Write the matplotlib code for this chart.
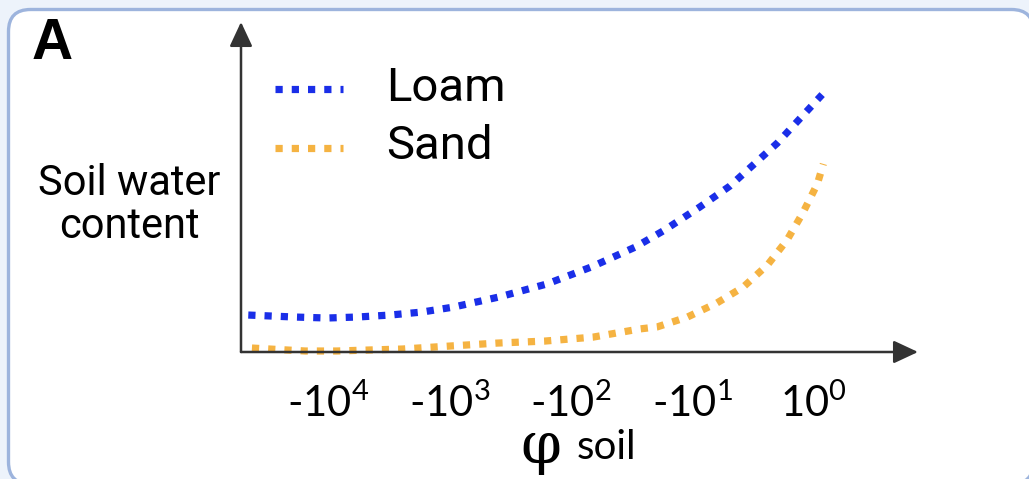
import matplotlib.pyplot as plt
from matplotlib.patches import FancyBboxPatch

plt.rcParams['mathtext.fontset'] = 'custom'
plt.rcParams['mathtext.rm'] = 'Lato'
plt.rcParams['mathtext.default'] = 'regular'

# x = exponent of |phi soil| (axis runs from -10^4 ... to 10^0), y = relative water content
loam_x = [4.66, 4.28, 4.01, 3.76, 3.49, 3.23, 2.97, 2.59, 2.2, 1.83, 1.47, 1.24, 0.94, 0.69, 0.3, -0.07]
loam_y = [0.112, 0.106, 0.103, 0.106, 0.112, 0.121, 0.136, 0.167, 0.206, 0.258, 0.318, 0.367, 0.439, 0.503, 0.633, 0.78]

sand_x = [4.63, 4.19, 3.93, 3.67, 3.39, 3.0, 2.61, 2.22, 1.82, 1.43, 1.29, 1.04, 0.8, 0.58, 0.38, 0.22, 0.09, -0.03, -0.08]
sand_y = [0.012, 0.003, 0.003, 0.006, 0.009, 0.018, 0.027, 0.033, 0.045, 0.07, 0.076, 0.106, 0.148, 0.197, 0.264, 0.339, 0.421, 0.509, 0.57]

tick_pos = [4, 3, 2, 1, 0]
tick_labels = ['-10$^{4}$', '-10$^{3}$', '-10$^{2}$', '-10$^{1}$', '10$^{0}$']

W, H = 1029, 479
fig = plt.figure(figsize=(W / 100, H / 100), dpi=100, facecolor='#EDF3FB')

# background panel with rounded border
bg = fig.add_axes([0, 0, 1, 1])
bg.set_xlim(0, W)
bg.set_ylim(0, H)
bg.axis('off')
bg.add_patch(FancyBboxPatch((8.5, -5), 1025, H - 9.5 + 5,
                            boxstyle='round,pad=0,rounding_size=22',
                            facecolor='white', edgecolor='#9DB4DD', linewidth=2.4))

ax = fig.add_axes([241 / W, (H - 352) / H, 677 / W, 330 / H])
ax.patch.set_alpha(0)
for s in ax.spines.values():
    s.set_visible(False)

ax.plot(loam_x, loam_y, color='#1A2EE8', lw=5.2, linestyle=(0, (1, 1.25)), label='Loam', clip_on=False)
ax.plot(sand_x, sand_y, color='#F5B342', lw=5.2, linestyle=(0, (1, 1.25)), label='Sand', clip_on=False)

ax.set_xlim(4.72, -0.86)
ax.set_ylim(0, 1)
ax.set_yticks([])
ax.set_xticks(tick_pos)
ax.set_xticklabels(tick_labels, fontsize=30, family='Lato')
ax.tick_params(axis='x', length=0, pad=22)

arrow = dict(arrowstyle='-|>,head_length=15,head_width=7', mutation_scale=1,
             color='#333333', lw=1.8, shrinkA=0, shrinkB=0)
ax.annotate('', xy=(1, 0), xytext=(0, 0), xycoords='axes fraction', arrowprops=arrow)
ax.annotate('', xy=(0, 1), xytext=(0, 0), xycoords='axes fraction', arrowprops=arrow)

leg = ax.legend(loc='upper left', bbox_to_anchor=(275 / W, 1 - 66 / H),
                bbox_transform=fig.transFigure, frameon=False,
                prop={'family': 'Roboto', 'size': 34}, handlelength=1.45,
                handleheight=0.0, handletextpad=0.9, labelspacing=0.3,
                borderpad=0, borderaxespad=0)

fig.text(129 / W, 1 - 205 / H, 'Soil water\ncontent', ha='center', va='center',
         family='Roboto', fontsize=30, linespacing=1.08)
fig.text(32 / W, 1 - 44 / H, 'A', ha='left', va='center', family='Liberation Sans',
         fontweight='bold', fontsize=41)
fig.text(541 / W, 1 - 447 / H, '\u03c6', ha='center', va='center', family='DejaVu Serif', fontsize=42)
fig.text(577 / W, 1 - 459 / H, 'soil', ha='left', va='baseline', family='Lato', fontsize=29)

fig.savefig('out.png', dpi=100, facecolor=fig.get_facecolor())
